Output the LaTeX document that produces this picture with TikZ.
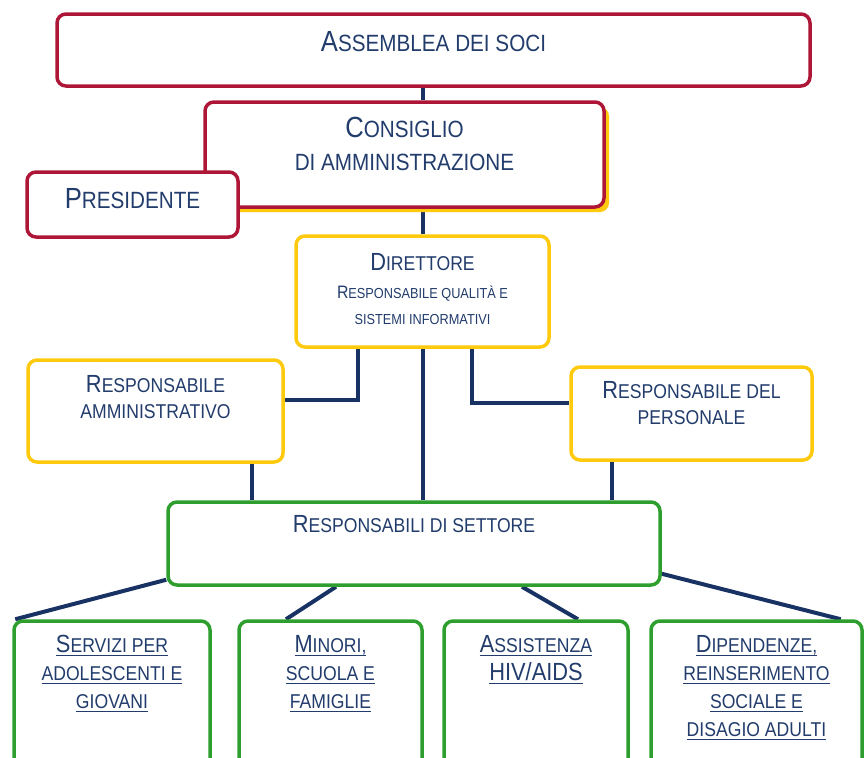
\documentclass[tikz,border=0pt]{standalone}
\usepackage{fontspec}
\usepackage{graphicx}
\setmainfont{Liberation Sans}[FakeStretch=0.88]
\usetikzlibrary{positioning,shadows,backgrounds}

\definecolor{orgred}{RGB}{174,22,56}
\definecolor{orgyellow}{RGB}{255,201,14}
\definecolor{orggreen}{RGB}{46,158,46}
\definecolor{orgnavy}{RGB}{24,50,100}
\definecolor{orgtext}{RGB}{34,60,108}

% larger initial of the small-caps words
\newcommand{\ini}[1]{\scalebox{1.24}{#1}}
% underlined line in the sector boxes
\newcommand{\undl}[1]{\setbox0\hbox{#1}\rlap{\rule[-3.5pt]{\wd0}{1.3pt}}\box0}

\begin{document}
\begin{tikzpicture}[x=1pt,y=-1pt,
  box/.style={draw=#1, line width=3.5pt, rounded corners=9pt, fill=white, inner sep=0pt},
  link/.style={draw=orgnavy, line width=4pt},
  lbl/.style={text=orgtext, align=center, inner sep=0pt, font=\fontsize{20}{26}\selectfont},
  lblbig/.style={lbl, font=\fontsize{23.5}{33}\selectfont},
  lblsmall/.style={lbl, font=\fontsize{14.5}{26}\selectfont},
  sector/.style={box=orggreen, minimum width=#1, minimum height=160pt},
  sectlbl/.style={lbl, font=\fontsize{20}{28}\selectfont}]

\useasboundingbox (0,0) rectangle (868,758);
\clip (0,0) rectangle (868,758);

% boxes
\node[box=orgred, minimum width=753pt, minimum height=72pt] (assemblea) at (433.5,50) {};
\node[box=orgred, minimum width=399pt, minimum height=105pt,
  drop shadow={shadow xshift=5pt, shadow yshift=-5pt, fill=orgyellow, opacity=1}] (consiglio) at (404.5,154.5) {};
\node[box=orgred, minimum width=211pt, minimum height=65pt] (presidente) at (132.5,204.5) {};
\node[box=orgyellow, minimum width=253pt, minimum height=111pt] (direttore) at (422.5,291.5) {};
\node[box=orgyellow, minimum width=255pt, minimum height=102pt] (amministrativo) at (155.5,411) {};
\node[box=orgyellow, minimum width=241pt, minimum height=93pt] (personale) at (691.5,413.5) {};
\node[box=orggreen, minimum width=492pt, minimum height=83pt] (settore) at (414,543.5) {};
\node[sector=196pt] (giovani) at (112,701) {};
\node[sector=183pt] (minori) at (330.5,701) {};
\node[sector=184pt] (hiv) at (536,701) {};
\node[sector=211pt] (dipendenze) at (756.5,701) {};

% labels
\node[lblbig, below=19pt of assemblea.north] (assT) {\ini{A}SSEMBLEA DEI SOCI};
\node[lblbig, below=17pt of consiglio.north] (consT) {\ini{C}ONSIGLIO\\DI AMMINISTRAZIONE};
\node[lblbig, below=18pt of presidente.north] (presT) {\ini{P}RESIDENTE};
\node[lbl, below=19pt of direttore.north] (dirT) {\ini{D}IRETTORE};
\node[lblsmall, below=15pt of dirT] (dirS) {\ini{R}ESPONSABILE QUALITÀ E\\SISTEMI INFORMATIVI};
\node[lbl, below=17pt of amministrativo.north] (ammT) {\ini{R}ESPONSABILE\\AMMINISTRATIVO};
\node[lbl, below=16pt of personale.north] (persT) {\ini{R}ESPONSABILE DEL\\PERSONALE};
\node[lbl, below=15pt of settore.north] (settT) {\ini{R}ESPONSABILI DI SETTORE};
\node[sectlbl, below=16pt of giovani.north] (giovT)
  {\undl{\ini{S}ERVIZI PER}\\\undl{ADOLESCENTI E}\\\undl{GIOVANI}};
\node[sectlbl, below=16pt of minori.north] (minT)
  {\undl{\ini{M}INORI,}\\\undl{SCUOLA E}\\\undl{FAMIGLIE}};
\node[sectlbl, below=16pt of hiv.north] (hivT)
  {\undl{\ini{A}SSISTENZA}\\\undl{\ini{HIV/AIDS}}};
\node[sectlbl, below=16pt of dipendenze.north] (dipT)
  {\undl{\ini{D}IPENDENZE,}\\\undl{REINSERIMENTO}\\\undl{SOCIALE E}\\\undl{DISAGIO ADULTI}};

% connectors
\begin{scope}[on background layer]
  \draw[link] (assemblea.south -| direttore) -- (consiglio.north -| direttore);
  \draw[link] (consiglio.south -| direttore) -- (direttore.north);
  \draw[link] (direttore.south) -- (settore.north -| direttore);
  \draw[link] ([xshift=-64.5pt]direttore.south) |- ([yshift=11pt]amministrativo.east);
  \draw[link] ([xshift=49.5pt]direttore.south) |- ([yshift=11pt]personale.west);
  \draw[link] ([xshift=96.5pt]amministrativo.south) -- ([xshift=96.5pt]amministrativo.south |- settore.north);
  \draw[link] ([xshift=-79.5pt]personale.south) -- ([xshift=-79.5pt]personale.south |- settore.north);
  \draw[link] ([yshift=7pt]settore.south west) -- ([xshift=3pt]giovani.north west);
  \draw[link] ([xshift=-78pt]settore.south) -- ([xshift=-44.5pt]minori.north);
  \draw[link] ([xshift=108pt]settore.south) -- ([xshift=42pt]hiv.north);
  \draw[link] ([yshift=13pt]settore.south east) -- ([xshift=-23pt]dipendenze.north east);
\end{scope}
\end{tikzpicture}
\end{document}
